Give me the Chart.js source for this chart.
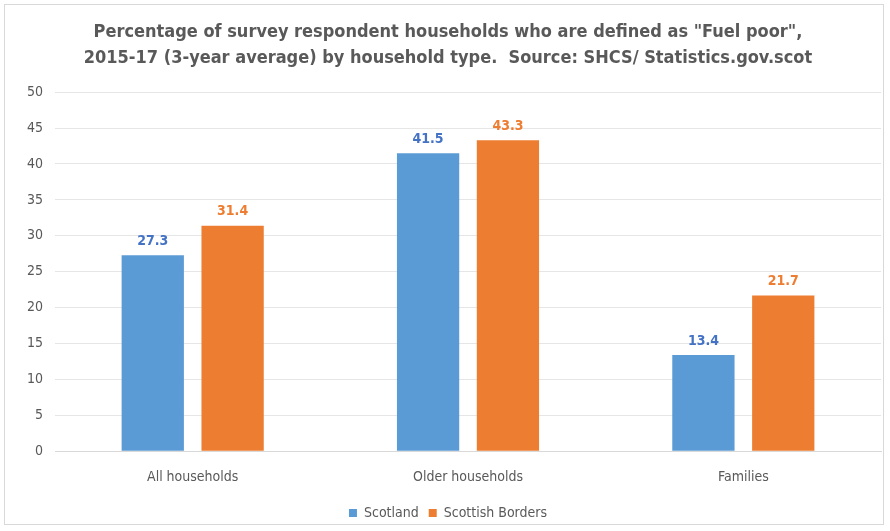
<!DOCTYPE html>
<html>
<head>
<meta charset="utf-8">
<script src="https://cdn.jsdelivr.net/npm/chart.js@4"></script>
<style>
  html, body { margin: 0; padding: 0; background: #fff; }
  #wrap { position: absolute; left: 4px; top: 4px; width: 880px; height: 521px; border: 1px solid #d9d9d9; box-sizing: border-box; }
</style>
</head>
<body>
<div id="wrap"><canvas id="chart"></canvas></div>
<script>
// Dados
const categorias = ['All households', 'Older households', 'Families'];
const scotland = [27.3, 41.5, 13.4];
const borders = [31.4, 43.3, 21.7];
const titulo = [
  'Percentage of survey respondent households who are defined as "Fuel poor",',
  '2015-17 (3-year average) by household type.  Source: SHCS/ Statistics.gov.scot'
];

const fonte = "'Liberation Sans Narrow', 'DejaVu Sans Condensed', 'Open Sans', sans-serif";

// rótulos acima das barras
const rotulos = {
  id: 'rotulos',
  afterDatasetsDraw(chart) {
    const ctx = chart.ctx;
    ctx.save();
    ctx.font = 'bold 14px ' + fonte;
    ctx.textAlign = 'center';
    ctx.textBaseline = 'bottom';
    chart.data.datasets.forEach((ds, i) => {
      const meta = chart.getDatasetMeta(i);
      ctx.fillStyle = ds.labelColor;
      meta.data.forEach((bar, j) => {
        ctx.fillText(ds.data[j].toFixed(1), bar.x, bar.y - 7);
      });
    });
    ctx.restore();
  }
};

let ctx = document.getElementById('chart').getContext('2d');
let grafico = new Chart(ctx, {
  type: 'bar',
  data: {
    labels: categorias,
    datasets: [
      { label: 'Scotland', data: scotland, backgroundColor: '#5B9BD5', labelColor: '#4472C4', barPercentage: 0.78, categoryPercentage: 0.58 },
      { label: 'Scottish Borders', data: borders, backgroundColor: '#ED7D31', labelColor: '#ED7D31', barPercentage: 0.78, categoryPercentage: 0.58 }
    ]
  },
  options: {
    responsive: true,
    maintainAspectRatio: false,
    animation: false,
    layout: { padding: { left: 10, right: 2, top: 8, bottom: -6 } },
    plugins: {
      title: {
        display: true,
        text: titulo,
        color: '#595959',
        font: { family: fonte, size: 18, weight: 'bold', lineHeight: 1.45 },
        padding: { top: 6, bottom: 21 }
      },
      legend: {
        position: 'bottom',
        labels: {
          color: '#595959',
          font: { family: fonte, size: 14 },
          boxWidth: 8,
          boxHeight: 8,
          padding: 10
        }
      },
      tooltip: { enabled: false }
    },
    scales: {
      x: {
        grid: { display: false },
        border: { color: '#d9d9d9' },
        ticks: { color: '#595959', font: { family: fonte, size: 14 }, padding: 10 }
      },
      y: {
        min: 0,
        max: 50,
        ticks: { stepSize: 5, color: '#595959', font: { family: fonte, size: 14 }, padding: 12 },
        grid: { color: '#e6e6e6', drawTicks: false },
        border: { display: false }
      }
    }
  },
  plugins: [rotulos]
});
</script>
</body>
</html>
